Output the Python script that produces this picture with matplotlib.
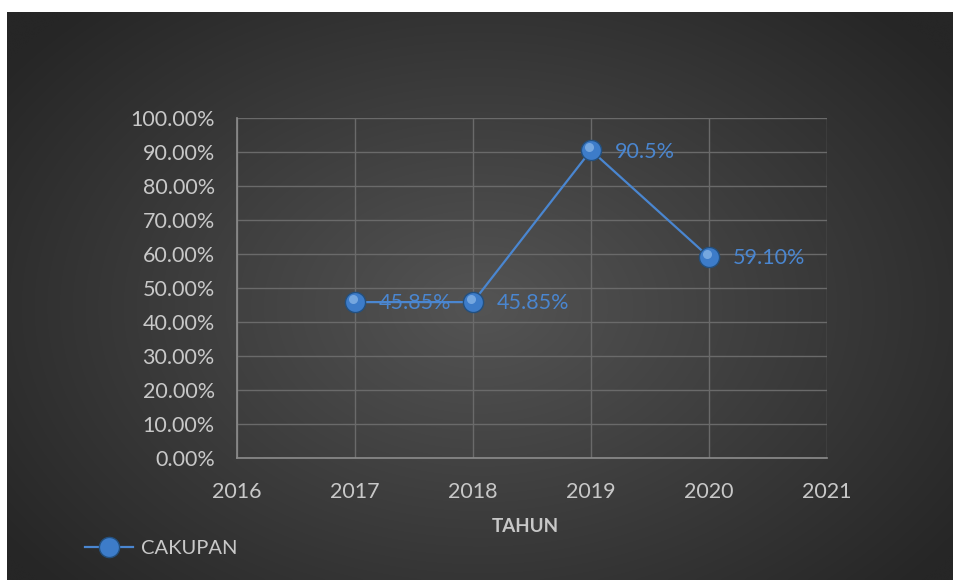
import numpy as np
import matplotlib
matplotlib.use("Agg")
import matplotlib.pyplot as plt
from matplotlib.ticker import FuncFormatter, MultipleLocator
from matplotlib.lines import Line2D

# Data
tahun = [2017, 2018, 2019, 2020]
cakupan = [45.85, 45.85, 90.5, 59.10]
label_data = ["45.85%", "45.85%", "90.5%", "59.10%"]

plt.rcParams["font.family"] = ["Lato", "DejaVu Sans"]

fig = plt.figure(figsize=(9.54, 5.8), dpi=100)
fig.patch.set_facecolor("white")

# Background with radial gradient (Excel dark style)
bg = fig.add_axes([7 / 954, 0, 1 - 7 / 954, (580 - 12) / 580])
bg.set_axis_off()
yy, xx = np.mgrid[0:1:300j, 0:1:500j]
r = np.sqrt(((xx - 0.5) / 0.62) ** 2 + ((yy - 0.52) / 0.72) ** 2)
r = np.clip(r, 0, 1)
inner = np.array([0x54, 0x54, 0x54]) / 255
outer = np.array([0x26, 0x26, 0x26]) / 255
img = inner[None, None, :] * (1 - r[..., None]) + outer[None, None, :] * r[..., None]
bg.imshow(img, aspect="auto", extent=[0, 1, 0, 1], interpolation="bicubic")

ax = fig.add_axes([237 / 954, 122 / 580, 590 / 954, 340 / 580])
ax.set_facecolor("none")

ax.plot(tahun, cakupan, color="#4a86d0", lw=1.6, zorder=3)
ax.plot(tahun, cakupan, ls="none", marker="o", ms=14.5,
        mfc="#3d7cc9", mec="#23507f", mew=1.0, zorder=4)
ax.plot(tahun, cakupan, ls="none", marker="o", ms=6.5,
        mfc="#9cc4ef", mec="none", alpha=0.6, zorder=5,
        transform=ax.transData + matplotlib.transforms.ScaledTranslation(-1.5 / 72, 2.5 / 72, fig.dpi_scale_trans))

for x, y, t in zip(tahun, cakupan, label_data):
    ax.annotate(t, (x, y), xytext=(17, -1), textcoords="offset points",
                ha="left", va="center", color="#4a86d0", fontsize=15.5, zorder=6)

ax.set_xlim(2016, 2021)
ax.set_ylim(0, 100)
ax.yaxis.set_major_locator(MultipleLocator(10))
ax.xaxis.set_major_locator(MultipleLocator(1))
ax.yaxis.set_major_formatter(FuncFormatter(lambda v, p: f"{v:.2f}%"))
ax.xaxis.set_major_formatter(FuncFormatter(lambda v, p: f"{int(v)}"))

ax.grid(True, color="#6a6a6a", lw=1.0)
ax.set_axisbelow(True)
for s in ["top", "right"]:
    ax.spines[s].set_visible(False)
for s in ["left", "bottom"]:
    ax.spines[s].set_color("#8c8c8c")
    ax.spines[s].set_linewidth(1.2)
ax.tick_params(length=0, colors="#c8c8c8", labelsize=15.5)
ax.tick_params(axis="x", pad=17)
ax.tick_params(axis="y", pad=16)

fig.text(525 / 954, 1 - 526 / 580, "TAHUN", ha="center", va="center",
         color="#c8c8c8", fontsize=13.5, fontweight="bold")

handle = Line2D([], [], color="#4a86d0", lw=1.6, marker="o", ms=14.5,
                mfc="#3d7cc9", mec="#23507f")
leg = fig.legend([handle], ["CAKUPAN"], loc="center left",
                 bbox_to_anchor=(67 / 954, 1 - 548 / 580), frameon=False,
                 fontsize=14.5, labelcolor="#c8c8c8", handlelength=2.4,
                 handletextpad=0.35)

fig.savefig("out.png", dpi=100, facecolor=fig.get_facecolor())
